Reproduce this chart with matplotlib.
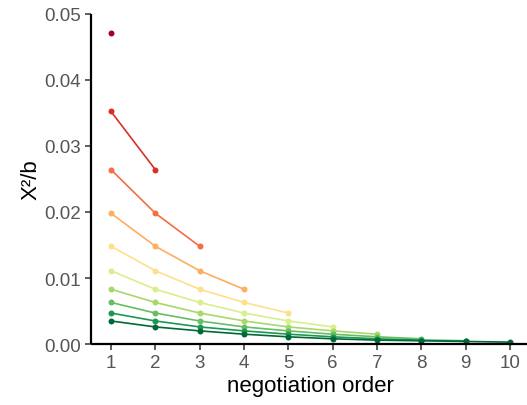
import matplotlib
matplotlib.use("Agg")
import matplotlib.pyplot as plt

plt.rcParams["font.family"] = ["Liberation Sans", "DejaVu Sans"]

# X^2/b per negotiation order, one series per starting level
order = [1, 2, 3, 4, 5, 6, 7, 8, 9, 10]
series = [
    [0.0470],
    [0.0352, 0.0264],
    [0.0264, 0.0198, 0.0148],
    [0.0198, 0.0148, 0.0111, 0.0083],
    [0.0148, 0.0111, 0.0083, 0.0063, 0.0047],
    [0.0111, 0.0083, 0.0063, 0.0047, 0.0035, 0.0026],
    [0.0083, 0.0063, 0.0047, 0.0035, 0.0026, 0.0020, 0.0015],
    [0.0063, 0.0047, 0.0035, 0.0026, 0.0020, 0.0015, 0.0011, 0.0008],
    [0.0047, 0.0035, 0.0026, 0.0020, 0.0015, 0.0011, 0.0008, 0.0006, 0.0005],
    [0.0035, 0.0026, 0.0020, 0.0015, 0.0011, 0.0008, 0.0006, 0.0005, 0.0004, 0.0003],
]
colors = ["#a50026", "#d73027", "#f46d43", "#fdae61", "#fee08b",
          "#d9ef8b", "#a6d96a", "#66bd63", "#1a9850", "#006837"]
y_ticks = [0.00, 0.01, 0.02, 0.03, 0.04, 0.05]

fig = plt.figure(figsize=(5.27, 4.06), dpi=100)
ax = fig.add_axes([0.1727, 0.150, 0.833, 0.814])

for vals, c in zip(series, colors):
    ax.plot(order[:len(vals)], vals, color=c, lw=1.2, marker="o", ms=4.3,
            markeredgewidth=0, clip_on=False)

ax.set_xlim(0.55, 10.45)
ax.set_ylim(0, 0.05)
ax.set_xticks(order)
ax.set_yticks(y_ticks)
ax.set_yticklabels([f"{v:.2f}" for v in y_ticks])

for side in ["top", "right"]:
    ax.spines[side].set_visible(False)
for side in ["left", "bottom"]:
    ax.spines[side].set_linewidth(1.6)
    ax.spines[side].set_color("black")
    ax.spines[side].set_capstyle("butt")

ax.tick_params(axis="both", length=4, width=1.1, color="#333333",
               labelsize=13.5, labelcolor="#555555", pad=3)
ax.set_xlabel("negotiation order", fontsize=16, labelpad=3)
ax.set_ylabel("X²/b", fontsize=16, labelpad=2)

fig.savefig("out.png", dpi=100)
